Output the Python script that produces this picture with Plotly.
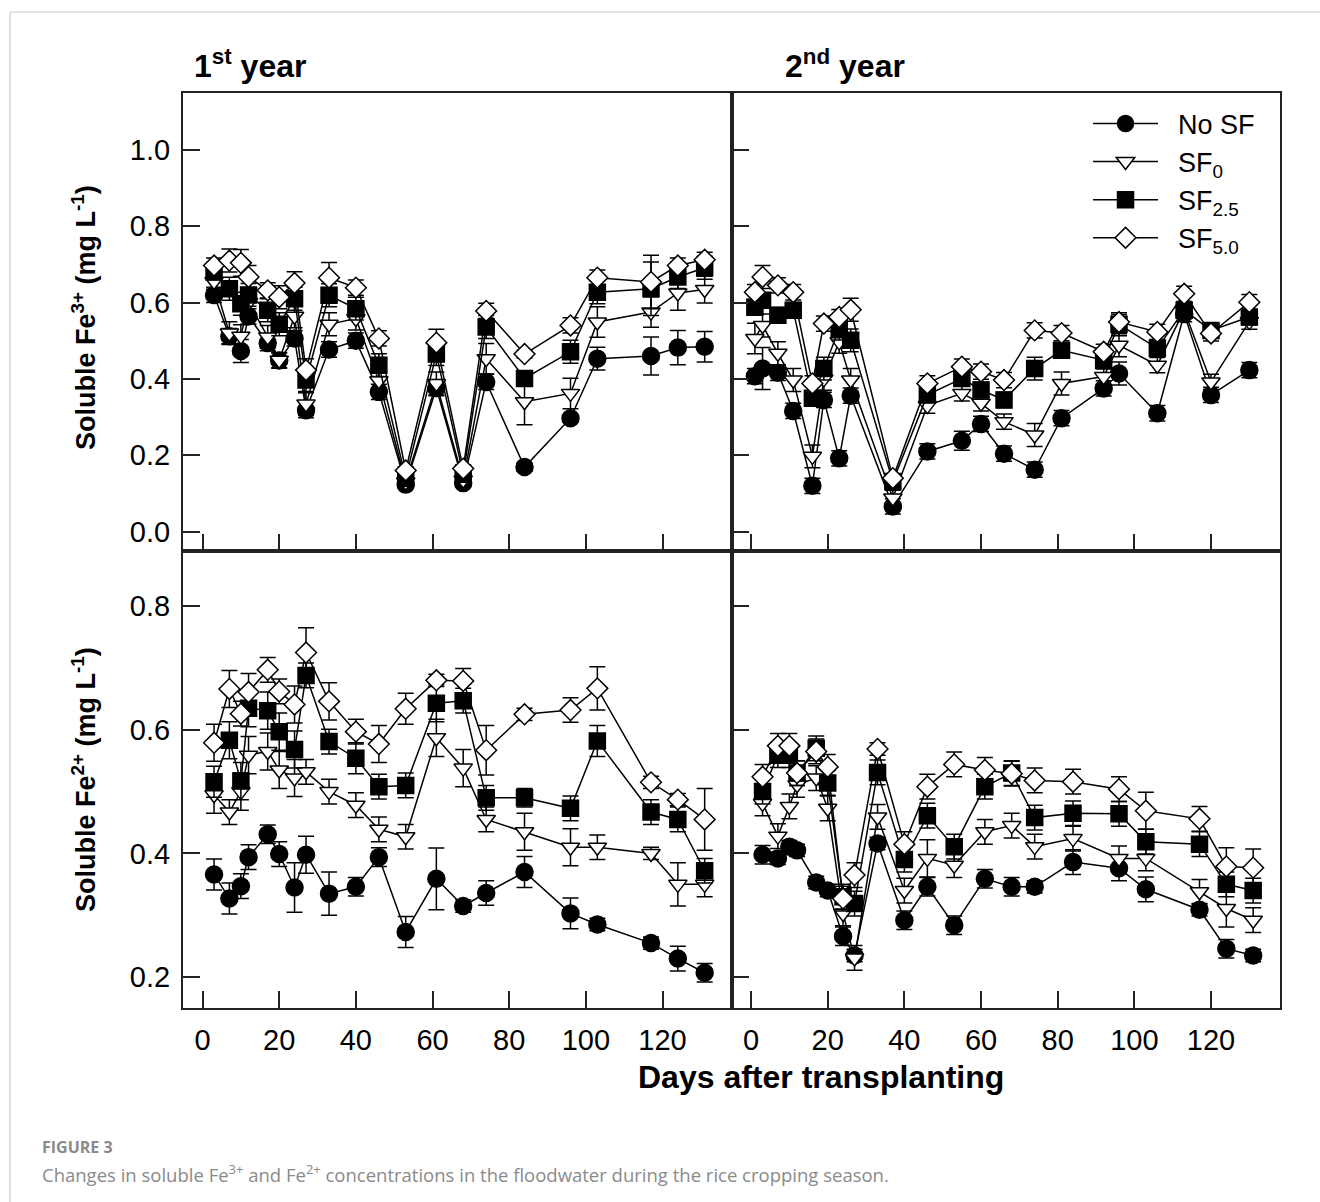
import plotly.graph_objects as go

# ---------------- data ----------------
days_y1 = [3, 7, 10, 12, 17, 20, 24, 27, 33, 40, 46, 53, 61, 68, 74, 84, 96, 103, 117, 124, 131]
days_fe3_y2 = [1, 3, 7, 11, 16, 19, 23, 26, 37, 46, 55, 60, 66, 74, 81, 92, 96, 106, 113, 120, 130]
days_fe2_y2 = [3, 7, 10, 12, 17, 20, 24, 27, 33, 40, 46, 53, 61, 68, 74, 84, 96, 103, 117, 124, 131]

series_names = ["No SF", "SF<sub>0</sub>", "SF<sub>2.5</sub>", "SF<sub>5.0</sub>"]

# Fe3+ 1st year
fe3_y1_nosf = [0.62, 0.512, 0.473, 0.564, 0.494, 0.448, 0.506, 0.318, 0.477, 0.50, 0.366, 0.123, 0.376, 0.127, 0.392, 0.169, 0.297, 0.453, 0.46, 0.482, 0.484]
fe3_y1_sf0 = [0.655, 0.52, 0.512, 0.60, 0.51, 0.449, 0.564, 0.334, 0.543, 0.558, 0.395, 0.13, 0.388, 0.135, 0.453, 0.34, 0.362, 0.549, 0.575, 0.625, 0.634]
fe3_y1_sf25 = [0.68, 0.636, 0.597, 0.62, 0.58, 0.543, 0.61, 0.397, 0.619, 0.584, 0.436, 0.14, 0.465, 0.15, 0.536, 0.401, 0.471, 0.627, 0.636, 0.667, 0.691]
fe3_y1_sf50 = [0.697, 0.71, 0.704, 0.667, 0.632, 0.614, 0.651, 0.423, 0.665, 0.639, 0.506, 0.16, 0.495, 0.165, 0.578, 0.465, 0.54, 0.665, 0.654, 0.697, 0.712]
fe3_y1_nosf_err = [0.02, 0.02, 0.03, 0.02, 0.02, 0.02, 0.02, 0.02, 0.02, 0.02, 0.02, 0.01, 0.02, 0.01, 0.02, 0.01, 0.01, 0.03, 0.05, 0.045, 0.04]
fe3_y1_sf0_err = [0.02, 0.03, 0.03, 0.03, 0.03, 0.02, 0.03, 0.03, 0.03, 0.03, 0.03, 0.01, 0.03, 0.01, 0.04, 0.06, 0.04, 0.04, 0.04, 0.045, 0.035]
fe3_y1_sf25_err = [0.02, 0.03, 0.03, 0.03, 0.03, 0.03, 0.03, 0.03, 0.03, 0.03, 0.03, 0.01, 0.03, 0.01, 0.03, 0.02, 0.03, 0.03, 0.07, 0.03, 0.03]
fe3_y1_sf50_err = [0.02, 0.03, 0.035, 0.03, 0.02, 0.03, 0.03, 0.03, 0.04, 0.02, 0.02, 0.01, 0.035, 0.01, 0.02, 0.01, 0.02, 0.02, 0.07, 0.02, 0.02]

# Fe3+ 2nd year
fe3_y2_nosf = [0.407, 0.427, 0.416, 0.316, 0.12, 0.345, 0.192, 0.356, 0.066, 0.21, 0.238, 0.282, 0.204, 0.162, 0.297, 0.375, 0.414, 0.31, 0.57, 0.358, 0.423]
fe3_y2_sf0 = [0.506, 0.54, 0.467, 0.397, 0.197, 0.40, 0.497, 0.397, 0.088, 0.33, 0.362, 0.336, 0.288, 0.253, 0.388, 0.406, 0.488, 0.436, 0.58, 0.392, 0.55]
fe3_y2_sf25 = [0.588, 0.606, 0.567, 0.58, 0.349, 0.427, 0.532, 0.501, 0.131, 0.358, 0.401, 0.371, 0.345, 0.427, 0.475, 0.449, 0.543, 0.48, 0.58, 0.527, 0.562]
fe3_y2_sf50 = [0.627, 0.667, 0.645, 0.627, 0.388, 0.545, 0.562, 0.581, 0.14, 0.388, 0.432, 0.419, 0.397, 0.527, 0.52, 0.471, 0.549, 0.523, 0.623, 0.519, 0.601]
fe3_y2_nosf_err = [0.02, 0.055, 0.02, 0.02, 0.02, 0.02, 0.02, 0.02, 0.02, 0.02, 0.025, 0.02, 0.02, 0.02, 0.02, 0.02, 0.03, 0.02, 0.02, 0.02, 0.02]
fe3_y2_sf0_err = [0.04, 0.03, 0.03, 0.03, 0.03, 0.03, 0.03, 0.03, 0.02, 0.02, 0.02, 0.02, 0.02, 0.03, 0.03, 0.02, 0.03, 0.02, 0.02, 0.02, 0.02]
fe3_y2_sf25_err = [0.02, 0.02, 0.02, 0.02, 0.02, 0.03, 0.03, 0.03, 0.02, 0.02, 0.02, 0.02, 0.02, 0.03, 0.02, 0.02, 0.03, 0.02, 0.02, 0.02, 0.02]
fe3_y2_sf50_err = [0.02, 0.03, 0.02, 0.02, 0.02, 0.02, 0.02, 0.03, 0.01, 0.02, 0.02, 0.02, 0.02, 0.02, 0.02, 0.02, 0.02, 0.02, 0.02, 0.02, 0.02]

# Fe2+ 1st year
fe2_y1_nosf = [0.366, 0.327, 0.347, 0.394, 0.431, 0.399, 0.345, 0.398, 0.335, 0.346, 0.394, 0.273, 0.359, 0.315, 0.336, 0.37, 0.303, 0.285, 0.255, 0.23, 0.207]
fe2_y1_sf0 = [0.495, 0.467, 0.50, 0.559, 0.565, 0.535, 0.522, 0.532, 0.50, 0.478, 0.439, 0.427, 0.587, 0.538, 0.455, 0.435, 0.41, 0.41, 0.40, 0.35, 0.35]
fe2_y1_sf25 = [0.516, 0.583, 0.517, 0.635, 0.631, 0.597, 0.568, 0.688, 0.581, 0.554, 0.508, 0.51, 0.643, 0.647, 0.49, 0.49, 0.473, 0.582, 0.467, 0.455, 0.372]
fe2_y1_sf50 = [0.579, 0.666, 0.626, 0.661, 0.697, 0.662, 0.641, 0.725, 0.646, 0.597, 0.577, 0.634, 0.68, 0.679, 0.567, 0.625, 0.632, 0.667, 0.515, 0.487, 0.455]
fe2_y1_nosf_err = [0.025, 0.025, 0.02, 0.02, 0.015, 0.02, 0.04, 0.03, 0.035, 0.015, 0.015, 0.025, 0.05, 0.01, 0.02, 0.025, 0.025, 0.01, 0.01, 0.02, 0.015]
fe2_y1_sf0_err = [0.03, 0.02, 0.03, 0.03, 0.03, 0.03, 0.03, 0.02, 0.02, 0.02, 0.02, 0.02, 0.03, 0.03, 0.02, 0.03, 0.03, 0.02, 0.01, 0.035, 0.02]
fe2_y1_sf25_err = [0.025, 0.03, 0.03, 0.03, 0.03, 0.03, 0.03, 0.02, 0.02, 0.025, 0.02, 0.02, 0.03, 0.02, 0.02, 0.015, 0.02, 0.025, 0.02, 0.02, 0.02]
fe2_y1_sf50_err = [0.03, 0.03, 0.02, 0.03, 0.02, 0.02, 0.03, 0.04, 0.03, 0.02, 0.03, 0.025, 0.01, 0.02, 0.04, 0.01, 0.02, 0.035, 0.01, 0.01, 0.05]

# Fe2+ 2nd year
fe2_y2_nosf = [0.398, 0.392, 0.411, 0.405, 0.353, 0.34, 0.266, 0.235, 0.416, 0.292, 0.346, 0.284, 0.359, 0.346, 0.346, 0.386, 0.376, 0.342, 0.309, 0.246, 0.235]
fe2_y2_sf0 = [0.481, 0.428, 0.476, 0.511, 0.522, 0.473, 0.303, 0.231, 0.459, 0.34, 0.392, 0.381, 0.435, 0.445, 0.411, 0.424, 0.392, 0.392, 0.338, 0.311, 0.292]
fe2_y2_sf25 = [0.50, 0.559, 0.559, 0.53, 0.57, 0.514, 0.33, 0.319, 0.531, 0.39, 0.461, 0.411, 0.508, 0.53, 0.458, 0.465, 0.464, 0.419, 0.415, 0.35, 0.34]
fe2_y2_sf50 = [0.524, 0.574, 0.574, 0.53, 0.565, 0.54, 0.327, 0.365, 0.569, 0.415, 0.508, 0.544, 0.535, 0.529, 0.518, 0.516, 0.504, 0.469, 0.456, 0.379, 0.377]
fe2_y2_nosf_err = [0.015, 0.01, 0.01, 0.01, 0.01, 0.01, 0.015, 0.01, 0.01, 0.015, 0.015, 0.015, 0.015, 0.015, 0.01, 0.02, 0.02, 0.02, 0.01, 0.015, 0.01]
fe2_y2_sf0_err = [0.02, 0.02, 0.02, 0.02, 0.02, 0.02, 0.02, 0.02, 0.02, 0.02, 0.03, 0.02, 0.02, 0.02, 0.02, 0.02, 0.02, 0.02, 0.02, 0.03, 0.02]
fe2_y2_sf25_err = [0.02, 0.02, 0.02, 0.02, 0.02, 0.02, 0.02, 0.02, 0.02, 0.02, 0.02, 0.02, 0.02, 0.02, 0.02, 0.02, 0.02, 0.02, 0.02, 0.02, 0.02]
fe2_y2_sf50_err = [0.02, 0.02, 0.02, 0.02, 0.02, 0.02, 0.02, 0.02, 0.01, 0.02, 0.02, 0.02, 0.02, 0.02, 0.02, 0.02, 0.02, 0.03, 0.02, 0.03, 0.03]

x_ticks = [0, 20, 40, 60, 80, 100, 120]
fe3_ticks = [0.0, 0.2, 0.4, 0.6, 0.8, 1.0]
fe2_ticks = [0.2, 0.4, 0.6, 0.8]

# ---------------- styles ----------------
symbols = ["circle", "triangle-down", "square", "diamond"]
fills = ["black", "white", "black", "white"]
msize = [17, 16, 16, 16]

panels = [
    ("x", "y", days_y1, [fe3_y1_nosf, fe3_y1_sf0, fe3_y1_sf25, fe3_y1_sf50],
     [fe3_y1_nosf_err, fe3_y1_sf0_err, fe3_y1_sf25_err, fe3_y1_sf50_err]),
    ("x2", "y2", days_fe3_y2, [fe3_y2_nosf, fe3_y2_sf0, fe3_y2_sf25, fe3_y2_sf50],
     [fe3_y2_nosf_err, fe3_y2_sf0_err, fe3_y2_sf25_err, fe3_y2_sf50_err]),
    ("x3", "y3", days_y1, [fe2_y1_nosf, fe2_y1_sf0, fe2_y1_sf25, fe2_y1_sf50],
     [fe2_y1_nosf_err, fe2_y1_sf0_err, fe2_y1_sf25_err, fe2_y1_sf50_err]),
    ("x4", "y4", days_fe2_y2, [fe2_y2_nosf, fe2_y2_sf0, fe2_y2_sf25, fe2_y2_sf50],
     [fe2_y2_nosf_err, fe2_y2_sf0_err, fe2_y2_sf25_err, fe2_y2_sf50_err]),
]

fig = go.Figure()
for pi, (xa, ya, days, vals, errs) in enumerate(panels):
    for si in range(4):
        fig.add_trace(go.Scatter(
            x=days, y=vals[si], xaxis=xa, yaxis=ya,
            mode="lines+markers",
            name="&nbsp;&nbsp;" + series_names[si],
            legendgroup=f"g{si}",
            showlegend=(pi == 1),
            line=dict(color="black", width=1.5),
            marker=dict(symbol=symbols[si], size=msize[si], color=fills[si],
                        line=dict(color="black", width=1.5)),
            error_y=dict(type="data", array=errs[si], visible=True,
                         color="black", thickness=1.5, width=8),
        ))

font_family = "Liberation Sans, Arial, sans-serif"
xr = [-5.1, 138.0]
common_x = dict(range=xr, tickvals=x_ticks, ticks="inside", ticklen=17, tickwidth=1.5,
                tickcolor="#222", showline=True, linewidth=2, linecolor="#222",
                mirror=True, showgrid=False, zeroline=False,
                tickfont=dict(size=29, color="black", family=font_family))
common_y = dict(ticks="inside", ticklen=17, tickwidth=1.5, tickcolor="#222",
                showline=True, linewidth=2, linecolor="#222", mirror=True,
                showgrid=False, zeroline=False,
                tickfont=dict(size=29, color="black", family=font_family))

split_x = 0.5
split_y = 0.5

fig.update_layout(
    width=1320, height=1202,
    margin=dict(l=183, r=40, t=93, b=194),
    paper_bgcolor="white", plot_bgcolor="white",
    font=dict(family=font_family, color="black"),
    xaxis=dict(common_x, domain=[0, split_x], anchor="y", showticklabels=False),
    xaxis2=dict(common_x, domain=[split_x, 1], anchor="y2", showticklabels=False),
    xaxis3=dict(common_x, domain=[0, split_x], anchor="y3", ticklabelstandoff=5),
    xaxis4=dict(common_x, domain=[split_x, 1], anchor="y4", ticklabelstandoff=5),
    yaxis=dict(common_y, domain=[split_y, 1], anchor="x", range=[-0.0496, 1.149],
               tickvals=fe3_ticks, tickformat=".1f", ticklabelstandoff=5),
    yaxis2=dict(common_y, domain=[split_y, 1], anchor="x2", range=[-0.0496, 1.149],
                tickvals=fe3_ticks, showticklabels=False),
    yaxis3=dict(common_y, domain=[0, split_y], anchor="x3", range=[0.150, 0.890],
                tickvals=fe2_ticks, tickformat=".1f", ticklabelstandoff=5),
    yaxis4=dict(common_y, domain=[0, split_y], anchor="x4", range=[0.150, 0.890],
                tickvals=fe2_ticks, showticklabels=False),
    showlegend=True,
    legend=dict(x=0.825, y=0.993, xanchor="left", yanchor="top",
                bgcolor="rgba(0,0,0,0)", font=dict(size=27, family=font_family),
                itemwidth=65, tracegroupgap=0, itemclick=False, itemdoubleclick=False),
)

def px2paper_x(px):
    return (px - 183) / 1097.0

def px2paper_y(py):
    return (1008 - py) / 915.0

ann = [
    dict(text="<b>1<sup>st</sup> year</b>", x=px2paper_x(192), y=px2paper_y(64),
         xanchor="left", yanchor="middle", font=dict(size=32)),
    dict(text="<b>2<sup>nd</sup> year</b>", x=px2paper_x(783), y=px2paper_y(64),
         xanchor="left", yanchor="middle", font=dict(size=32)),
    dict(text="<b>Soluble Fe<sup>3+</sup> (mg L<sup>-1</sup>)</b>", x=px2paper_x(84),
         y=px2paper_y(318), textangle=-90, xanchor="center", yanchor="middle",
         font=dict(size=27)),
    dict(text="<b>Soluble Fe<sup>2+</sup> (mg L<sup>-1</sup>)</b>", x=px2paper_x(84),
         y=px2paper_y(780), textangle=-90, xanchor="center", yanchor="middle",
         font=dict(size=27)),
    dict(text="<b>Days after transplanting</b>", x=px2paper_x(821), y=px2paper_y(1077),
         xanchor="center", yanchor="middle", font=dict(size=32)),
    dict(text="<b>FIGURE 3</b>", x=px2paper_x(40), y=px2paper_y(1147),
         xanchor="left", yanchor="middle",
         font=dict(size=16, color="#8a8a8a", family="Open Sans, Noto Sans, sans-serif")),
    dict(text="Changes in soluble Fe<sup>3+</sup> and Fe<sup>2+</sup> concentrations in the floodwater during the rice cropping season.",
         x=px2paper_x(40), y=px2paper_y(1173), xanchor="left", yanchor="middle",
         font=dict(size=18.5, color="#8a8a8a", family="Open Sans, Noto Sans, sans-serif")),
]
for a in ann:
    a.update(xref="paper", yref="paper", showarrow=False)
fig.update_layout(annotations=ann)

fig.update_layout(shapes=[
    dict(type="line", xref="paper", yref="paper", x0=px2paper_x(10), x1=px2paper_x(10),
         y0=px2paper_y(12), y1=px2paper_y(1202), line=dict(color="#cccccc", width=1.2)),
    dict(type="line", xref="paper", yref="paper", x0=px2paper_x(10), x1=px2paper_x(1320),
         y0=px2paper_y(12), y1=px2paper_y(12), line=dict(color="#cccccc", width=1.2)),
])

fig.write_html("out.html",
               config={"displayModeBar": False},
               post_script="document.body.style.margin='0';document.body.style.overflow='hidden';")
